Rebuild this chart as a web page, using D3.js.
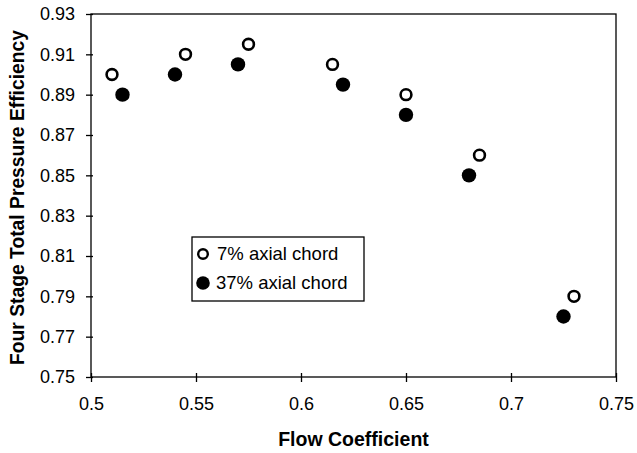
<!DOCTYPE html>
<html><head><meta charset="utf-8">
<script src="https://cdn.jsdelivr.net/npm/d3@7"></script>
<style>body{margin:0;background:#fff}svg{display:block}text{font-family:"Liberation Sans",Arial,sans-serif;fill:#000}</style>
</head><body><svg id="c" width="637" height="453"></svg>
<script>
const xTicks = [0.5, 0.55, 0.6, 0.65, 0.7, 0.75];
const yTicks = [0.75, 0.77, 0.79, 0.81, 0.83, 0.85, 0.87, 0.89, 0.91, 0.93];
const x7 = [0.51, 0.545, 0.575, 0.615, 0.65, 0.685, 0.73];
const y7 = [0.90, 0.91, 0.915, 0.905, 0.89, 0.86, 0.79];
const x37 = [0.515, 0.54, 0.57, 0.62, 0.65, 0.68, 0.725];
const y37 = [0.89, 0.90, 0.905, 0.895, 0.88, 0.85, 0.78];
const seriesNames = ["7% axial chord", "37% axial chord"];

const svg = d3.select("#c");
const L = 91, R = 616, T = 14, B = 377;
const x = d3.scaleLinear().domain([0.5, 0.75]).range([L, R]);
const y = d3.scaleLinear().domain([0.75, 0.93]).range([B, T]);

// frame
svg.append("rect").attr("x", L).attr("y", T).attr("width", R - L).attr("height", B - T)
  .attr("fill", "none").attr("stroke", "#000").attr("stroke-width", 1.3);

const fmtX = d => String(d);
const xa = svg.append("g").attr("transform", `translate(0,${B})`)
  .call(d3.axisBottom(x).tickValues(xTicks).tickFormat(fmtX).tickSize(5).tickSizeOuter(0));
xa.select(".domain").remove();
xa.selectAll(".tick line").attr("y1", -4).attr("stroke-width", 1.3);
xa.selectAll(".tick text").attr("font-size", 18).attr("y", 20).attr("dy", "0.71em")
  .attr("font-family", '"Liberation Sans",Arial,sans-serif');

const ya = svg.append("g").attr("transform", `translate(${L},0)`)
  .call(d3.axisLeft(y).tickValues(yTicks).tickFormat(d3.format(".2f")).tickSize(5).tickSizeOuter(0));
ya.select(".domain").remove();
ya.selectAll(".tick line").attr("x1", 2).attr("stroke-width", 1.3);
ya.selectAll(".tick text").attr("font-size", 18).attr("x", -16)
  .attr("font-family", '"Liberation Sans",Arial,sans-serif');

// axis titles
svg.append("text").attr("x", (L + R) / 2).attr("y", 446).attr("text-anchor", "middle")
  .attr("font-size", 19.5).attr("font-weight", "bold").text("Flow Coefficient");
svg.append("text").attr("transform", `translate(24,${(T + B) / 2 + 2}) rotate(-90)`)
  .attr("text-anchor", "middle").attr("font-size", 19.3).attr("font-weight", "bold")
  .text("Four Stage Total Pressure Efficiency");

// points
const d7 = x7.map((v, i) => ({x: v, y: y7[i]}));
const d37 = x37.map((v, i) => ({x: v, y: y37[i]}));
svg.append("g").selectAll("circle").data(d37).join("circle")
  .attr("cx", d => x(d.x)).attr("cy", d => y(d.y)).attr("r", 7.2).attr("fill", "#000");
svg.append("g").selectAll("circle").data(d7).join("circle")
  .attr("cx", d => x(d.x)).attr("cy", d => y(d.y)).attr("r", 5.4)
  .attr("fill", "#fff").attr("stroke", "#000").attr("stroke-width", 2.6);

// legend
const lg = svg.append("g");
lg.append("rect").attr("x", 192).attr("y", 237).attr("width", 172).attr("height", 64)
  .attr("fill", "#fff").attr("stroke", "#000").attr("stroke-width", 1.3);
lg.append("circle").attr("cx", 203).attr("cy", 254).attr("r", 4.8)
  .attr("fill", "#fff").attr("stroke", "#000").attr("stroke-width", 2.4);
lg.append("circle").attr("cx", 203).attr("cy", 283).attr("r", 6.8).attr("fill", "#000");
lg.append("text").attr("x", 217).attr("y", 260).attr("font-size", 18.5).text(seriesNames[0]);
lg.append("text").attr("x", 216).attr("y", 289).attr("font-size", 18.5).text(seriesNames[1]);
</script></body></html>
